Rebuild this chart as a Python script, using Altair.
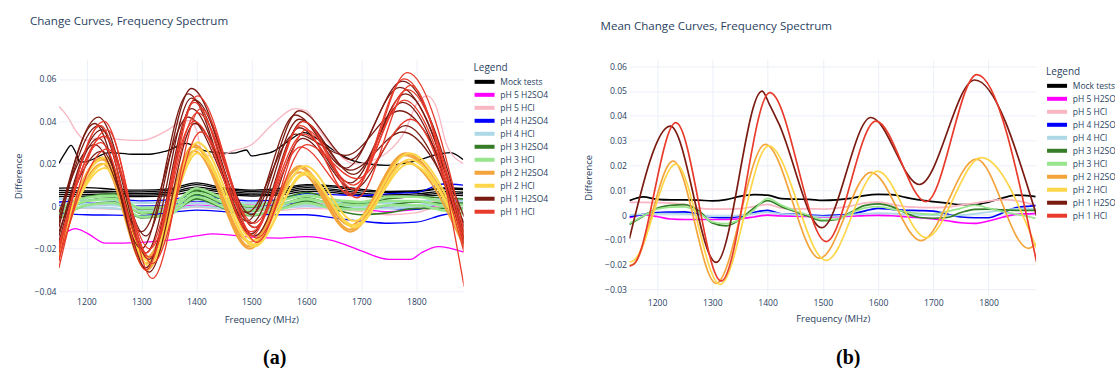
import altair as alt
import pandas as pd

# ---------------- categories / colours ----------------
GROUPS = ["Mock tests", "pH 5 H2SO4", "pH 5 HCl", "pH 4 H2SO4", "pH 4 HCl",
          "pH 3 H2SO4", "pH 3 HCl", "pH 2 H2SO4", "pH 2 HCl", "pH 1 H2SO4", "pH 1 HCl"]
COLORS = ["#000000", "#ff00ff", "#f8b7c3", "#0000ff", "#add8e6",
          "#347c25", "#98e58e", "#f3a43b", "#fdd64a", "#7a1b12", "#e83b2b"]

X_DOMAIN = [1150, 1886]
X_TICKS = [1200, 1300, 1400, 1500, 1600, 1700, 1800]
YA_DOMAIN = [-0.0405, 0.0692]
YA_TICKS = [-0.04, -0.02, 0, 0.02, 0.04, 0.06]
YB_DOMAIN = [-0.0323, 0.0627]
YB_TICKS = [-0.03, -0.02, -0.01, 0, 0.01, 0.02, 0.03, 0.04, 0.05, 0.06]

# frequency grids (MHz)
F25 = [1150, 1175, 1200, 1225, 1250, 1275, 1300, 1325, 1350, 1375, 1400, 1425, 1450, 1475, 1500,
       1525, 1550, 1575, 1600, 1625, 1650, 1675, 1700, 1725, 1750, 1775, 1800, 1825, 1850, 1875, 1885]
F50 = [1150, 1200, 1250, 1300, 1350, 1400, 1450, 1500, 1550, 1600, 1650, 1700, 1750, 1800, 1850, 1885]

# ---------------- panel (b): mean curves, values in 1e-3 ----------------
B_MOCK = [5.8, 7.3, 6.3, 6.1, 6.1, 6.0, 5.7, 6.2, 7.5, 8.2, 8.0, 6.6, 6.4, 6.3, 5.9, 6.1, 6.7, 7.8, 8.3, 8.2,
          7.1, 6.1, 5.4, 4.8, 4.2, 4.2, 5.2, 6.8, 8.0, 7.7, 7.4]
B_P5_H2SO4 = [-1.1, 0.2, -0.6, -1.6, -1.8, -1.8, -1.8, -1.8, -1.5, -0.8, 0.0, -0.4, -0.5, -0.6, -0.8, -0.7,
              -0.5, -0.2, -0.1, -0.3, -0.7, -1.1, -1.6, -2.3, -3.1, -3.4, -2.4, -0.9, 0.3, 0.5, 0.6]
B_P5_HCL = [5.1, 5.1, 5.0, 4.8, 4.2, 2.8, 2.4, 2.4, 2.6, 3.4, 4.3, 2.8, 2.5, 2.5, 2.4, 2.8, 3.6, 4.8, 5.2, 4.3,
            3.4, 3.1, 3.0, 3.2, 4.0, 4.8, 5.6, 6.2, 5.8, 4.5, 3.8]
B_P4_H2SO4 = [-0.7, 0.3, 1.0, 1.2, 1.3, 0.4, -0.9, -1.1, -0.6, 1.0, 1.9, 0.5, 0.3, 0.0, -0.3, 0.0, 0.3, 1.6,
              2.7, 2.3, 1.9, 1.8, 1.6, 0.4, -0.8, -1.1, -1.1, 0.8, 3.0, 3.6, 3.8]
B_P4_HCL = [0.0, 0.4, 0.5, 0.6, 0.5, 0.0, -0.5, -0.5, -0.2, 0.5, 1.1, 0.5, 0.1, -0.3, -0.6, -0.4, 0.0, 0.5,
            0.8, 0.6, 0.3, 0.1, 0.0, -0.2, 0.0, 0.5, 1.2, 1.9, 2.5, 2.5, 2.4]
B_P3_H2SO4 = [-3.8, -0.5, 2.7, 3.9, 4.2, 1.8, -3.2, -4.4, -1.8, 2.8, 5.8, 3.4, 1.4, -0.6, -2.3, -1.8, 1.0, 3.8,
              4.5, 3.4, 0.8, -1.0, -1.3, -1.0, 1.0, 2.3, 2.4, 2.1, 1.9, 1.9, 1.9]
B_P3_HCL = [-3.4, -0.4, 2.4, 3.2, 3.3, 1.0, -2.8, -3.5, -1.8, 2.0, 6.7, 4.0, 1.7, -0.1, -1.8, -1.6, 0.7, 2.8,
            3.4, 2.4, 1.3, 0.6, 0.3, 1.4, 2.7, 4.0, 2.8, 1.4, 0.3, -0.8, -1.3]
B_P2_H2SO4_F = [1150, 1157, 1229, 1307, 1396, 1494, 1587, 1678, 1778, 1872, 1887]
B_P2_H2SO4 = [-20.4, -19.8, 21.7, -27.5, 28.5, -17.4, 17.2, -10.3, 22.5, -13.4, -11.4]
B_P2_HCL_F = [1150, 1157, 1234, 1314, 1402, 1506, 1599, 1687, 1787, 1887]
B_P2_HCL = [-19.0, -18.4, 20.5, -27.9, 27.9, -18.3, 17.7, -9.1, 23.1, -13.4]
B_P1_H2SO4_F = [1150, 1224, 1307, 1390, 1404, 1420, 1498, 1587, 1675, 1775, 1887]
B_P1_H2SO4 = [-9.5, 35.8, -19.1, 49.9, 44.3, 37.0, -5.1, 39.3, 12.3, 54.4, -0.3]
B_P1_HCL_F = [1150, 1158, 1234, 1316, 1404, 1506, 1596, 1687, 1779, 1887]
B_P1_HCL = [-20.6, -19.8, 37.2, -26.6, 49.3, -10.7, 37.8, 5.4, 56.6, -19.0]

# ---------------- panel (a): individual curves, values in 1e-3 ----------------
A_MOCK_1 = [7.5, 7.2, 7.0, 6.8, 7.5, 10.2, 8.0, 7.0, 7.6, 9.6, 9.0, 7.2, 6.5, 6.8, 8.2, 7.8]
A_MOCK_2 = [6.5, 6.4, 6.2, 6.0, 6.6, 9.0, 7.2, 6.2, 6.8, 8.8, 8.0, 6.2, 5.4, 5.8, 7.0, 6.6]
A_MOCK_3 = [5.6, 5.5, 5.4, 5.2, 5.8, 8.2, 6.4, 5.4, 6.0, 8.0, 7.2, 5.4, 4.6, 5.0, 6.2, 5.8]
A_MOCK_4 = [8.5, 8.8, 8.0, 7.6, 8.2, 11.0, 8.6, 7.6, 8.4, 10.2, 9.6, 8.0, 7.0, 7.2, 8.6, 8.4]
A_MOCK_5 = [4.6, 4.8, 4.6, 4.6, 5.0, 7.0, 5.6, 4.8, 5.2, 7.0, 6.4, 4.8, 4.0, 4.4, 5.4, 5.0]
A_MOCK_OUT_F = [1150, 1161, 1172, 1181, 1188, 1201, 1242, 1285, 1315, 1345, 1382, 1406, 1436, 1467, 1491,
                1500, 1515, 1541, 1565, 1596, 1626, 1656, 1687, 1717, 1747, 1778, 1808, 1838, 1862, 1885]
A_MOCK_OUT = [20.2, 25.0, 28.7, 25.0, 20.9, 21.2, 25.3, 24.5, 24.5, 26.0, 29.6, 26.8, 25.3, 25.0, 26.5,
              23.7, 24.3, 26.0, 30.3, 34.7, 30.7, 25.3, 21.3, 19.8, 19.3, 20.2, 22.0, 24.5, 25.3, 22.0]

A_P5_H2SO4_OUT_F = [1150, 1165, 1180, 1200, 1235, 1300, 1350, 1400, 1430, 1500, 1550, 1600, 1650, 1700,
                    1750, 1790, 1810, 1840, 1885]
A_P5_H2SO4_OUT = [-15.0, -12.0, -10.5, -12.5, -17.4, -17.0, -16.0, -14.0, -13.0, -14.5, -15.0, -14.3, -16.3,
                  -21.0, -25.0, -25.0, -21.8, -19.0, -21.5]
A_P5_H2SO4_2 = [0.5, 1.0, 0.5, 0.0, 0.5, 2.5, 1.0, 0.5, 0.8, 1.5, 1.0, 0.5, -0.5, 0.5, 2.0, 2.5]
A_P5_H2SO4_3 = [-1.5, -0.5, -1.0, -1.5, -1.0, 0.5, -0.5, -1.0, -0.5, 0.0, -0.5, -1.5, -2.5, -1.5, 0.5, 1.0]

A_P5_HCL_OUT_F = [1150, 1165, 1182, 1200, 1224, 1260, 1300, 1345, 1370, 1390, 1400, 1410, 1435, 1465, 1500,
                  1540, 1580, 1600, 1626, 1656, 1687, 1717, 1747, 1778, 1802, 1820, 1836, 1856, 1885]
A_P5_HCL_OUT = [47.0, 42.5, 35.0, 31.0, 32.3, 31.5, 31.0, 35.5, 39.5, 40.5, 36.0, 26.0, 23.0, 26.0, 29.0,
                39.0, 46.0, 45.0, 35.0, 25.3, 20.0, 21.3, 25.3, 34.7, 48.8, 52.0, 47.0, 28.4, 20.2]
A_P5_HCL_2 = [-0.5, -1.0, -1.5, -2.0, -1.8, -0.5, -1.5, -2.0, -2.0, -1.0, -1.5, -2.5, -4.0, -3.0, 0.5, 0.8]
A_P5_HCL_3 = [1.5, 1.0, 0.5, 0.2, 0.5, 2.0, 0.5, 0.2, 0.5, 1.5, 0.8, 0.0, -1.0, 0.5, 2.5, 2.2]

A_P4_H2SO4_1 = [-3.5, -4.0, -4.2, -4.5, -3.0, -1.8, -2.5, -3.5, -4.0, -4.0, -5.5, -7.0, -8.0, -7.5, -4.0, -3.0]
A_P4_H2SO4_2 = [0.5, 1.5, 1.2, 0.0, 0.5, 2.5, 1.0, 0.0, 0.5, 2.5, 2.0, 1.0, -1.0, -1.5, 2.0, 3.5]
A_P4_H2SO4_3 = [2.0, 3.0, 3.5, 2.5, 3.0, 5.0, 3.5, 2.5, 3.0, 6.0, 5.5, 5.0, 6.0, 6.5, 10.5, 10.0]

A_P4_HCL_1 = [3.5, 3.0, 2.5, 1.5, 2.0, 3.0, 2.0, 1.5, 1.5, 2.5, 2.0, 1.5, 1.5, 2.0, 3.5, 3.0]
A_P4_HCL_2 = [1.0, 1.0, 0.5, -0.5, 0.0, 1.5, 0.5, -0.5, 0.0, 1.0, 0.5, 0.0, 0.0, 0.5, 2.0, 2.0]
A_P4_HCL_3 = [-1.0, -0.5, -1.0, -2.0, -1.5, 0.0, -1.0, -1.5, -1.0, 0.0, -0.5, -1.0, -1.0, 0.0, 1.0, 1.0]

A_P3_H2SO4_1 = [-2.0, 4.5, 6.0, -1.5, 0.0, 7.5, 3.0, -0.5, 3.0, 6.5, 3.0, 1.0, 3.5, 4.5, 4.0, 3.5]
A_P3_H2SO4_2 = [-4.0, 2.5, 4.0, -3.5, -2.0, 5.5, 1.0, -2.5, 0.5, 4.0, 0.5, -1.5, 0.5, 2.0, 1.5, 1.5]
A_P3_H2SO4_3 = [-6.0, 0.5, 2.0, -5.5, -4.0, 3.5, -1.0, -4.5, -1.5, 2.5, -1.5, -4.0, -3.0, -1.0, -1.0, -1.0]

A_P3_HCL_1 = [-1.5, 4.0, 5.0, -1.0, 0.0, 8.5, 3.5, 0.0, 2.5, 5.0, 3.0, 2.0, 4.5, 4.5, 2.0, 0.5]
A_P3_HCL_2 = [-3.5, 2.5, 3.5, -3.0, -2.0, 6.5, 1.5, -2.0, 0.5, 3.5, 1.0, 0.5, 2.5, 2.5, 0.0, -1.5]
A_P3_HCL_3 = [-5.5, 0.5, 1.5, -5.0, -4.0, 4.5, -0.5, -4.0, -1.5, 1.5, -1.0, -1.5, 0.5, 0.5, -2.0, -3.5]

A_P2_H2SO4_F = [1150, 1229, 1310, 1396, 1497, 1588, 1680, 1780, 1887]
A_P2_H2SO4_1 = [-20.0, 23.0, -27.0, 29.0, -19.0, 18.0, -11.0, 24.0, -17.0]
A_P2_H2SO4_2 = [-23.0, 20.0, -30.0, 26.0, -20.0, 16.0, -12.0, 21.0, -19.0]
A_P2_H2SO4_3 = [-18.0, 22.0, -24.0, 28.0, -17.0, 19.0, -9.0, 25.0, -15.0]

A_P2_HCL_F = [1150, 1234, 1314, 1402, 1505, 1598, 1687, 1787, 1887]
A_P2_HCL_1 = [-17.0, 23.0, -24.0, 30.0, -16.0, 19.0, -7.0, 25.0, -13.0]
A_P2_HCL_2 = [-21.0, 20.0, -28.0, 27.0, -19.0, 16.0, -10.0, 22.0, -16.0]
A_P2_HCL_3 = [-19.0, 18.0, -26.0, 25.0, -18.0, 15.0, -9.0, 20.0, -15.0]

A_P1_H2SO4_F1 = [1150, 1222, 1308, 1391, 1500, 1587, 1680, 1775, 1887]
A_P1_H2SO4_F2 = [1150, 1215, 1300, 1385, 1492, 1580, 1672, 1770, 1887]
A_P1_H2SO4_F3 = [1150, 1228, 1314, 1397, 1506, 1593, 1686, 1780, 1887]
A_P1_H2SO4_1 = [-6.0, 42.0, -14.0, 55.5, -4.0, 45.0, 22.0, 59.0, -10.0]
A_P1_H2SO4_2 = [-10.0, 39.0, -20.0, 53.0, -7.0, 43.0, 18.0, 56.0, -13.0]
A_P1_H2SO4_3 = [-14.0, 36.0, -25.0, 50.0, -10.0, 40.0, 15.0, 53.0, -16.0]
A_P1_H2SO4_4 = [-17.0, 32.0, -29.0, 46.0, -13.0, 37.0, 11.0, 49.0, -18.0]
A_P1_H2SO4_5 = [-3.0, 29.0, -12.0, 42.0, -3.0, 34.0, 24.0, 45.0, -5.0]
A_P1_H2SO4_6 = [-12.0, 26.0, -31.0, 39.0, -14.0, 32.0, 8.0, 38.0, -15.0]
A_P1_H2SO4_7 = [-8.0, 38.0, -22.0, 51.0, -8.0, 41.0, 17.0, 35.0, -8.0]

A_P1_HCL_F1 = [1150, 1232, 1315, 1402, 1505, 1595, 1686, 1784, 1887]
A_P1_HCL_F2 = [1150, 1226, 1308, 1396, 1500, 1590, 1680, 1778, 1887]
A_P1_HCL_F3 = [1150, 1238, 1320, 1408, 1510, 1600, 1692, 1790, 1887]
A_P1_HCL_1 = [-22.0, 40.0, -24.0, 52.0, -10.0, 40.0, 8.0, 63.0, -12.0]
A_P1_HCL_2 = [-26.0, 38.0, -30.0, 49.0, -14.0, 38.0, 5.0, 60.0, -20.0]
A_P1_HCL_3 = [-29.0, 36.0, -34.0, 46.0, -17.0, 36.0, 4.0, 57.0, -38.0]
A_P1_HCL_4 = [-18.0, 33.0, -20.0, 44.0, -8.0, 34.0, 10.0, 55.0, -15.0]
A_P1_HCL_5 = [-25.0, 27.0, -27.0, 35.0, -15.0, 29.0, 13.0, 41.0, -22.0]
A_P1_HCL_6 = [-20.0, 30.0, -22.0, 40.0, -12.0, 28.0, 6.0, 50.0, -17.0]

PANEL_A = {
    "Mock tests": [(F50, A_MOCK_1), (F50, A_MOCK_2), (F50, A_MOCK_3), (F50, A_MOCK_4), (F50, A_MOCK_5),
                   (A_MOCK_OUT_F, A_MOCK_OUT)],
    "pH 5 H2SO4": [(A_P5_H2SO4_OUT_F, A_P5_H2SO4_OUT), (F50, A_P5_H2SO4_2), (F50, A_P5_H2SO4_3)],
    "pH 5 HCl": [(A_P5_HCL_OUT_F, A_P5_HCL_OUT), (F50, A_P5_HCL_2), (F50, A_P5_HCL_3)],
    "pH 4 H2SO4": [(F50, A_P4_H2SO4_1), (F50, A_P4_H2SO4_2), (F50, A_P4_H2SO4_3)],
    "pH 4 HCl": [(F50, A_P4_HCL_1), (F50, A_P4_HCL_2), (F50, A_P4_HCL_3)],
    "pH 3 H2SO4": [(F50, A_P3_H2SO4_1), (F50, A_P3_H2SO4_2), (F50, A_P3_H2SO4_3)],
    "pH 3 HCl": [(F50, A_P3_HCL_1), (F50, A_P3_HCL_2), (F50, A_P3_HCL_3)],
    "pH 2 H2SO4": [(A_P2_H2SO4_F, A_P2_H2SO4_1), (A_P2_H2SO4_F, A_P2_H2SO4_2), (A_P2_H2SO4_F, A_P2_H2SO4_3)],
    "pH 2 HCl": [(A_P2_HCL_F, A_P2_HCL_1), (A_P2_HCL_F, A_P2_HCL_2), (A_P2_HCL_F, A_P2_HCL_3)],
    "pH 1 H2SO4": [(A_P1_H2SO4_F1, A_P1_H2SO4_1), (A_P1_H2SO4_F2, A_P1_H2SO4_2), (A_P1_H2SO4_F3, A_P1_H2SO4_3),
                   (A_P1_H2SO4_F1, A_P1_H2SO4_4), (A_P1_H2SO4_F2, A_P1_H2SO4_5), (A_P1_H2SO4_F3, A_P1_H2SO4_6),
                   (A_P1_H2SO4_F1, A_P1_H2SO4_7)],
    "pH 1 HCl": [(A_P1_HCL_F1, A_P1_HCL_1), (A_P1_HCL_F2, A_P1_HCL_2), (A_P1_HCL_F3, A_P1_HCL_3),
                 (A_P1_HCL_F1, A_P1_HCL_4), (A_P1_HCL_F3, A_P1_HCL_5), (A_P1_HCL_F2, A_P1_HCL_6)],
}
PANEL_B = {
    "Mock tests": [(F25, B_MOCK)],
    "pH 5 H2SO4": [(F25, B_P5_H2SO4)],
    "pH 5 HCl": [(F25, B_P5_HCL)],
    "pH 4 H2SO4": [(F25, B_P4_H2SO4)],
    "pH 4 HCl": [(F25, B_P4_HCL)],
    "pH 3 H2SO4": [(F25, B_P3_H2SO4)],
    "pH 3 HCl": [(F25, B_P3_HCL)],
    "pH 2 H2SO4": [(B_P2_H2SO4_F, B_P2_H2SO4)],
    "pH 2 HCl": [(B_P2_HCL_F, B_P2_HCL)],
    "pH 1 H2SO4": [(B_P1_H2SO4_F, B_P1_H2SO4)],
    "pH 1 HCl": [(B_P1_HCL_F, B_P1_HCL)],
}

A_WIDTHS = [1.3, 1.3, 1.3, 1.3, 2.2, 1.6, 2.6, 2.0, 2.0, 1.3, 1.3]
B_WIDTHS = [1.7] * 11

TEXT = "#2a3f5f"
FONT = "Open Sans"


def frame(curves):
    rows = []
    for g, lst in curves.items():
        for k, (fs, vs) in enumerate(lst):
            for f, v in zip(fs, vs):
                rows.append({"group": g, "curve": f"{g}#{k}", "f": f, "v": v / 1000.0})
    return pd.DataFrame(rows)


def panel(curves, widths, ydom, yticks, title, w, h, tag, tag_x, tag_y, title_off,
          xl_pad, xt_pad, leg_x, leg_y):
    df = frame(curves)
    x = alt.X("f:Q", scale=alt.Scale(domain=X_DOMAIN, nice=False, zero=False),
              axis=alt.Axis(values=X_TICKS, title="Frequency (MHz)", format="d",
                            labelPadding=xl_pad, titlePadding=xt_pad))
    y = alt.Y("v:Q", scale=alt.Scale(domain=ydom, nice=False, zero=False),
              axis=alt.Axis(values=yticks, title="Difference", format=".2~f"))
    color = alt.Color("group:N", scale=alt.Scale(domain=GROUPS, range=COLORS),
                      legend=alt.Legend(title="Legend", symbolType="M-5,0H5", symbolSize=16,
                                        symbolStrokeWidth=4, symbolOffset=6.75, labelOffset=11.5,
                                        labelFont=FONT, labelFontSize=8.5,
                                        labelColor=TEXT, titleFont=FONT, titleFontSize=10,
                                        titleColor=TEXT, titleFontWeight="normal", titlePadding=4.5,
                                        rowPadding=-8.4, padding=0, orient="none",
                                        legendX=leg_x, legendY=leg_y))
    zero = alt.Chart(alt.Data(values=[{"v": 0}])).mark_rule(color="#ebf0f8", strokeWidth=2).encode(y=y)
    layers = [zero]
    for g, sw in zip(GROUPS, widths):
        layers.append(
            alt.Chart().transform_filter(alt.datum.group == g)
            .mark_line(interpolate="monotone", strokeWidth=sw, clip=True)
            .encode(x=x, y=y, color=color, detail="curve:N")
        )
    tag_layer = alt.Chart(alt.Data(values=[{"t": tag}])).mark_text(
        font="Liberation Serif", fontSize=20, fontWeight="bold", color="#000000",
        align="center", baseline="middle").encode(x=alt.value(tag_x), y=alt.value(tag_y), text="t:N")
    layers.append(tag_layer)
    return alt.layer(*layers, data=df).properties(
        width=w, height=h,
        title=alt.TitleParams(text=title, anchor="start", frame="group", dx=-29, offset=title_off,
                              fontSize=11.6, font=FONT, color=TEXT, fontWeight="normal",
                              baseline="alphabetic"))


pa = panel(PANEL_A, A_WIDTHS, YA_DOMAIN, YA_TICKS, "Change Curves, Frequency Spectrum",
           405, 233, "(a)", 216, 299, 22.5, 5.5, 8.5, 415, 3.7)
pb = panel(PANEL_B, B_WIDTHS, YB_DOMAIN, YB_TICKS, "Mean Change Curves, Frequency Spectrum",
           407, 236, "(b)", 219, 299, 17.7, 3.2, 6.3, 417, 7.7)

chart = (
    alt.hconcat(pa, pb, spacing=166, bounds="flush")
    .resolve_scale(color="independent", x="independent", y="independent")
    .resolve_legend(color="independent")
    .properties(padding={"left": 13, "top": 15.3, "right": -6, "bottom": 0}, background="white")
    .configure_view(stroke=None)
    .configure_axis(grid=True, gridColor="#ebf0f8", gridWidth=1, domain=False, ticks=False, tickSize=0,
                    labelFont=FONT, labelFontSize=8.6, labelColor=TEXT, titleFont=FONT,
                    titleFontSize=9.5, titleColor=TEXT, titleFontWeight="normal")
    .configure_axisY(labelPadding=3, titlePadding=11)
)

chart.save("out.html", embed_options={"renderer": "svg", "actions": False})
